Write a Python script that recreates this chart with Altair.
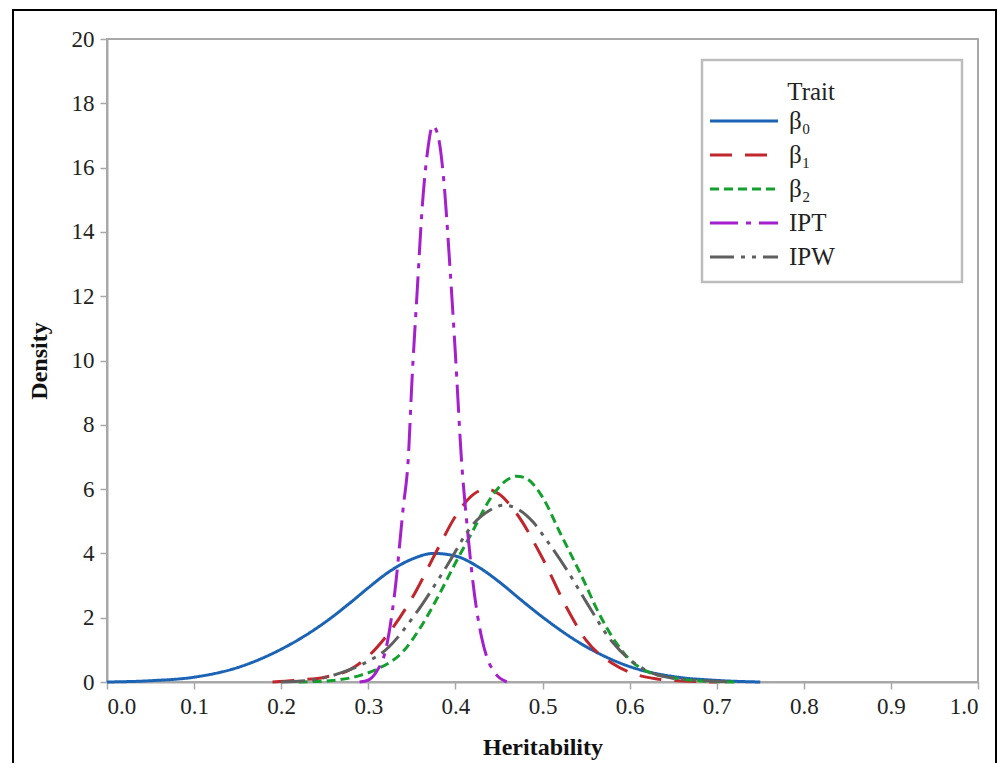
import altair as alt
import pandas as pd

# ---------------- data ----------------
traits = ["β₀", "β₁", "β₂", "IPT", "IPW"]
colors = ["#1a63b5", "#c0262b", "#13a02c", "#a61fcc", "#5f5f5f"]
dashes = [[1, 0], [22, 13], [9, 5], [28, 8, 5, 8], [24, 7, 4, 7, 4, 7]]

x_ticks = [0.0, 0.1, 0.2, 0.3, 0.4, 0.5, 0.6, 0.7, 0.8, 0.9, 1.0]
y_ticks = [0, 2, 4, 6, 8, 10, 12, 14, 16, 18, 20]

b0_x = [0.00, 0.05, 0.10, 0.15, 0.20, 0.25, 0.28, 0.30, 0.325, 0.35, 0.375, 0.40, 0.425, 0.45, 0.475, 0.50, 0.55, 0.60, 0.65, 0.70, 0.75]
b0_y = [0.00, 0.04, 0.15, 0.45, 1.02, 1.85, 2.48, 2.93, 3.45, 3.82, 4.00, 3.92, 3.60, 3.12, 2.56, 2.02, 1.10, 0.48, 0.17, 0.05, 0.00]

b1_x = [0.19, 0.22, 0.25, 0.28, 0.30, 0.32, 0.35, 0.38, 0.40, 0.42, 0.435, 0.45, 0.47, 0.50, 0.53, 0.55, 0.58, 0.60, 0.63, 0.66, 0.70]
b1_y = [0.00, 0.06, 0.15, 0.40, 0.80, 1.40, 2.60, 4.15, 5.15, 5.82, 6.00, 5.85, 5.25, 3.85, 2.20, 1.30, 0.58, 0.30, 0.10, 0.03, 0.00]

b2_x = [0.22, 0.26, 0.29, 0.31, 0.34, 0.36, 0.38, 0.40, 0.42, 0.44, 0.46, 0.47, 0.48, 0.50, 0.52, 0.55, 0.56, 0.585, 0.60, 0.62, 0.645, 0.68, 0.72]
b2_y = [0.00, 0.05, 0.20, 0.40, 0.95, 1.70, 2.65, 3.70, 4.70, 5.70, 6.30, 6.40, 6.35, 5.75, 4.65, 3.00, 2.40, 1.20, 0.70, 0.33, 0.15, 0.04, 0.00]

ipt_x = [0.290, 0.300, 0.310, 0.320, 0.330, 0.340, 0.346, 0.350, 0.356, 0.362, 0.368, 0.374, 0.380, 0.386, 0.394, 0.400, 0.407, 0.414, 0.422, 0.430, 0.436, 0.445, 0.459]
ipt_y = [0.00, 0.06, 0.35, 1.00, 2.70, 5.40, 7.00, 9.30, 12.10, 14.80, 16.50, 17.30, 17.00, 15.80, 12.80, 10.20, 6.90, 4.70, 2.70, 1.40, 0.78, 0.30, 0.00]

ipw_x = [0.20, 0.24, 0.27, 0.30, 0.32, 0.355, 0.39, 0.42, 0.44, 0.455, 0.47, 0.49, 0.505, 0.53, 0.55, 0.58, 0.60, 0.62, 0.65, 0.70, 0.72]
ipw_y = [0.00, 0.08, 0.30, 0.65, 1.00, 2.15, 3.60, 4.90, 5.35, 5.50, 5.40, 4.95, 4.40, 3.40, 2.50, 1.25, 0.70, 0.35, 0.12, 0.02, 0.00]

series = [(traits[0], b0_x, b0_y), (traits[1], b1_x, b1_y), (traits[2], b2_x, b2_y),
          (traits[3], ipt_x, ipt_y), (traits[4], ipw_x, ipw_y)]
rows = []
for name, xs, ys in series:
    for i, (xv, yv) in enumerate(zip(xs, ys)):
        rows.append({"Trait": name, "h": xv, "d": yv, "i": i})
df = pd.DataFrame(rows)

FONT = "Liberation Serif"
W, H = 871, 643

lines = alt.Chart(df).mark_line(strokeWidth=3, interpolate="monotone").encode(
    x=alt.X("h:Q", title="Heritability",
            scale=alt.Scale(domain=[0, 1], nice=False, zero=False),
            axis=alt.Axis(values=x_ticks, format=".1f", grid=False)),
    y=alt.Y("d:Q", title="Density",
            scale=alt.Scale(domain=[0, 20], nice=False),
            axis=alt.Axis(values=y_ticks, grid=False)),
    color=alt.Color("Trait:N", scale=alt.Scale(domain=traits, range=colors),
                    legend=alt.Legend(
                        orient="none", legendX=624, legendY=41,
                        symbolType="M-3,0H3", symbolSize=514, symbolStrokeWidth=3,
                        labelOffset=32, titleAnchor="end", titlePadding=3,
                        rowPadding=8, padding=0,
                        labelFont=FONT, labelFontSize=25, labelColor="#222",
                        titleFont=FONT, titleFontSize=25, titleFontWeight="normal",
                        titleColor="#222")),
    strokeDash=alt.StrokeDash("Trait:N", scale=alt.Scale(domain=traits, range=dashes),
                              legend=None),
    order="i:Q",
)

legend_box = alt.Chart(pd.DataFrame({"k": [0]})).mark_rect(
    fill="white", stroke="#bdbdbd", strokeWidth=2.5
).encode(x=alt.value(595), x2=alt.value(855), y=alt.value(21), y2=alt.value(243))

outer = alt.Chart(pd.DataFrame({"k": [0]})).mark_rect(
    fill=None, stroke="black", strokeWidth=2, clip=False
).encode(x=alt.value(-94), x2=alt.value(889), y=alt.value(-29), y2=alt.value(760))

chart = alt.layer(outer, legend_box, lines).properties(
    width=W, height=H,
    autosize=alt.AutoSizeParams(type="none"),
    padding={"left": 99, "top": 31, "right": 20, "bottom": 81},
).configure_view(
    stroke="#a8a8a8", strokeWidth=2
).configure_axis(
    labelFont=FONT, labelFontSize=23, labelColor="#222",
    titleFont=FONT, titleFontSize=24, titleFontWeight="bold", titleColor="#111",
    domainColor="#a8a8a8", domainWidth=2, tickColor="#a8a8a8", tickWidth=1.5,
    tickSize=7, labelPadding=6,
).configure_axisX(titlePadding=17).configure_axisY(titlePadding=20)

chart.save("out.html", embed_options={"renderer": "svg", "actions": False})
